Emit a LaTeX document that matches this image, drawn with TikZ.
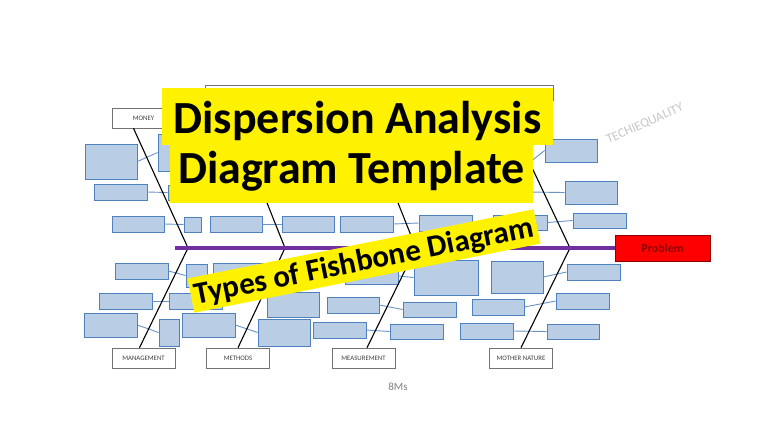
\documentclass[tikz,border=0pt]{standalone}
\usepackage{fontspec}
\setmainfont{Carlito}
\usepackage{tikz}
\definecolor{causefill}{RGB}{185,205,229}
\definecolor{causeline}{RGB}{79,129,189}
\definecolor{spinepurple}{RGB}{112,48,160}
\definecolor{problemtext}{RGB}{140,0,0}
\definecolor{labelgray}{RGB}{64,64,64}
\tikzset{
cause/.style args = {#1, #2}{ rectangle, draw = causeline, fill = causefill, line width = 0.8pt, minimum width = #1pt, minimum height = #2pt, inner sep = 0pt },
category/.style = { rectangle, draw = black!55, fill = white, line width = 0.6pt, minimum width = 63pt, minimum height = 20pt, inner sep = 0pt, text = labelgray, font = \fontsize{6.8}{7}\selectfont },
link/.style = { draw = causeline!85, line width = 0.9pt },
bone/.style = { draw = black, line width = 1.1pt },
banner/.style = { fill = yellow, inner sep = 0pt, font = \bfseries\fontsize{46}{50}\selectfont },
}

\begin{document}
\begin{tikzpicture}[x = 1pt, y = -1pt]
    \useasboundingbox[fill = white] (0, 0) rectangle (768, 432);
    % causes above the spine
    \node[cause = {52, 35}] (a1) at (111, 161.5) {};
    \node[cause = {42, 37}] (a2) at (179, 152.5) {};
    \node[cause = {53, 16}] (a3) at (120.5, 192) {};
    \node[cause = {47, 15}] (a4) at (191.5, 192.5) {};
    \node[cause = {52, 16}] (a5) at (138, 224) {};
    \node[cause = {17, 15}] (a6) at (192.5, 224.5) {};
    \node[cause = {52, 16}] (a7) at (236, 224) {};
    \node[cause = {52, 16}] (a8) at (308, 224) {};
    \node[cause = {53, 16}] (a9) at (366.5, 224) {};
    \node[cause = {53, 16}] (a10) at (445.5, 223) {};
    \node[cause = {54, 15}] (a11) at (520, 222.5) {};
    \node[cause = {53, 15}] (a12) at (599.5, 220.5) {};
    \node[cause = {52, 16}] (a13) at (500, 192) {};
    \node[cause = {52, 23}] (a14) at (591, 192.5) {};
    \node[cause = {52, 16}] (a15) at (500, 165) {};
    \node[cause = {52, 23}] (a16) at (571, 150.5) {};
    % causes below the spine
    \node[cause = {53, 16}] (b1) at (141.5, 271) {};
    \node[cause = {21, 23}] (b2) at (196.5, 275.5) {};
    \node[cause = {52, 17}] (b3) at (239, 271.5) {};
    \node[cause = {53, 16}] (b4) at (125.5, 301) {};
    \node[cause = {53, 16}] (b5) at (195.5, 301) {};
    \node[cause = {52, 25}] (b6) at (293, 304.5) {};
    \node[cause = {53, 24}] (b7) at (110.5, 325) {};
    \node[cause = {20, 27}] (b8) at (169, 332.5) {};
    \node[cause = {53, 24}] (b9) at (208.5, 325) {};
    \node[cause = {52, 27}] (b10) at (284, 332.5) {};
    \node[cause = {53, 16}] (b11) at (371.5, 276) {};
    \node[cause = {64, 35}] (b12) at (446, 277.5) {};
    \node[cause = {52, 16}] (b13) at (353, 305) {};
    \node[cause = {53, 15}] (b14) at (429.5, 309.5) {};
    \node[cause = {53, 16}] (b15) at (339.5, 330) {};
    \node[cause = {53, 15}] (b16) at (416.5, 331.5) {};
    \node[cause = {52, 32}] (b17) at (517, 277) {};
    \node[cause = {53, 16}] (b18) at (593.5, 272) {};
    \node[cause = {52, 16}] (b19) at (498, 307) {};
    \node[cause = {53, 16}] (b20) at (582.5, 301) {};
    \node[cause = {53, 16}] (b21) at (486.5, 331) {};
    \node[cause = {52, 15}] (b22) at (573, 331.5) {};
    \draw[link] (a1.east) -- (a2.west);
    \draw[link] (a3.east) -- (a4.west);
    \draw[link] (a5.east) -- (a6.west);
    \draw[link] (a7.east) -- (a8.west);
    \draw[link] (a9.east) -- (a10.west);
    \draw[link] (a11.east) -- (a12.west);
    \draw[link] (a13.east) -- (a14.west);
    \draw[link] (a15.east) -- (a16.west);
    \draw[link] (b1.east) -- (b2.west);
    \draw[link] (b4.east) -- (b5.west);
    \draw[link] (b7.east) -- (b8.west);
    \draw[link] (b9.east) -- (b10.west);
    \draw[link] (b11.east) -- (b12.west);
    \draw[link] (b13.east) -- (b14.west);
    \draw[link] (b15.east) -- (b16.west);
    \draw[link] (b17.east) -- (b18.west);
    \draw[link] (b19.east) -- (b20.west);
    \draw[link] (b21.east) -- (b22.west);
    % categories
    \node[rectangle, draw = black!55, fill = white, line width = 0.6pt, minimum width = 348pt, minimum height = 15pt] (upper row) at (379, 92.5) {};
    \node[category] (money) at (143.5, 118) {MONEY};
    \node[category] (management) at (143.5, 358) {MANAGEMENT};
    \node[category] (methods) at (238, 358) {METHODS};
    \node[category] (measurement) at (363.5, 358) {MEASUREMENT};
    \node[category] (mother nature) at (521, 358) {MOTHER NATURE};
    \coordinate (j1) at (188, 248);
    \coordinate (j2) at (285, 248);
    \coordinate (j3) at (416, 248);
    \coordinate (j4) at (570, 248);
    \coordinate (t2) at (226, 100);
    \coordinate (t3) at (357, 100);
    \coordinate (t4) at (500, 100);
    \draw[bone] ([xshift = -10pt]money.south) -- (j1) -- ([xshift = -4pt]management.north);
    \draw[bone] (t2) -- (j2) -- (methods.north);
    \draw[bone] (t3) -- (j3) -- ([xshift = 3.5pt]measurement.north);
    \draw[bone] (t4) -- (j4) -- (mother nature.north);
    % spine and head
    \node[rectangle, draw = problemtext, fill = red, line width = 0.6pt, minimum width = 95pt, minimum height = 26pt, text = problemtext, font = \bfseries\fontsize{12}{13}\selectfont] (problem) at (662.5, 248) {Problem};
    \coordinate (tail) at (175, 248);
    \draw[spinepurple, line width = 4pt] (tail) -- (problem.west);
    % titles
    \node[banner, minimum width = 363pt, text height = 38pt, text depth = 20pt] (title2) at (351.5, 174) {Diagram Template};
    \node[banner, minimum width = 391pt, text height = 45pt, text depth = 12pt] (title1) at (357.5, 116.5) {Dispersion Analysis};
    \node[banner, font = \bfseries\fontsize{31}{34}\selectfont, rotate = 11.3, minimum width = 353pt, text height = 27pt, text depth = 8pt] (subtitle) at (364, 261) {Types of Fishbone Diagram};
    \node[text = black!22, font = \fontsize{13}{14}\selectfont, rotate = 24] (watermark) at (645, 124) {TECHIEQUALITY};
    \node[text = black!50, font = \fontsize{11}{12}\selectfont] (caption) at (398, 387) {8Ms};
\end{tikzpicture}
\end{document}
